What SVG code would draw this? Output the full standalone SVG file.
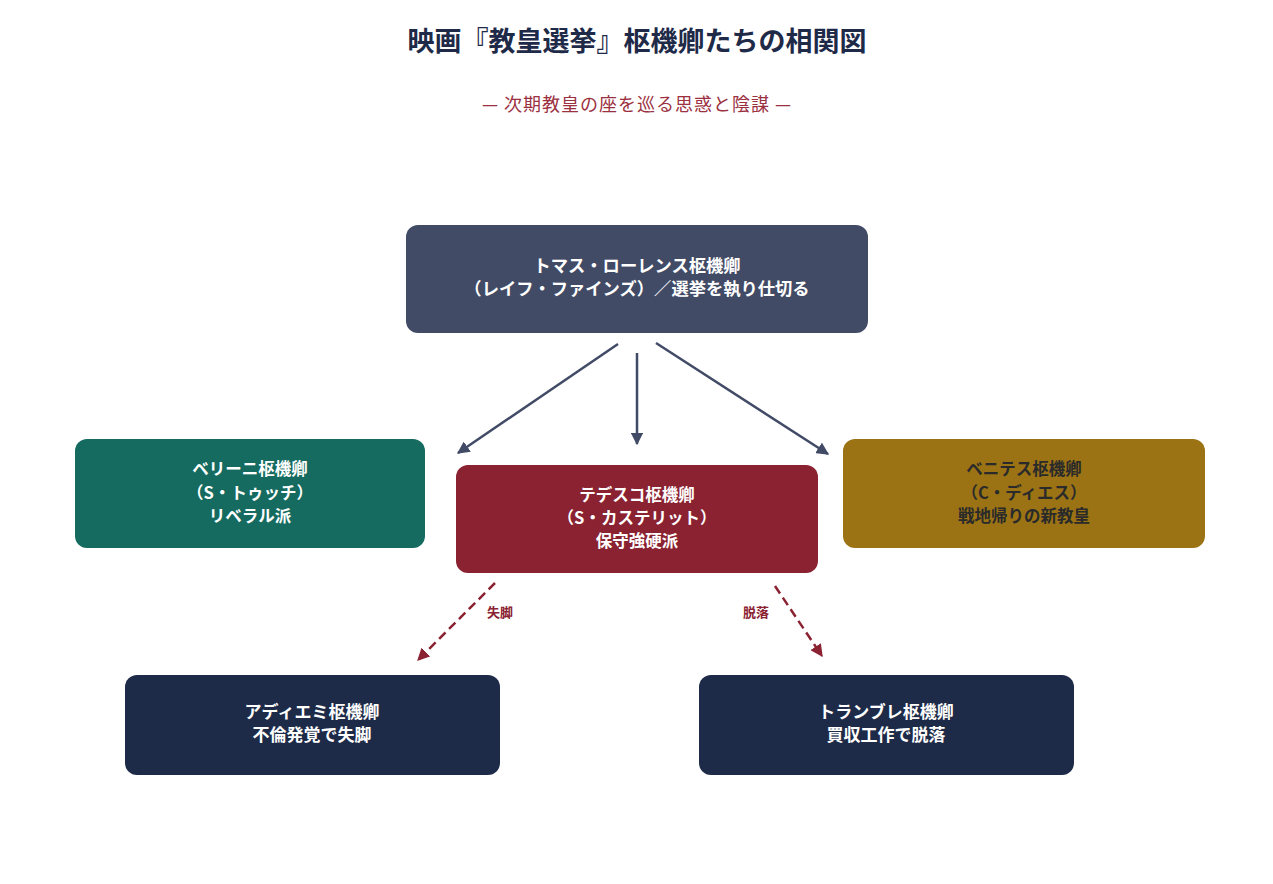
<svg xmlns="http://www.w3.org/2000/svg" width="1273" height="884" viewBox="0 0 1273 884">
<style>
text{font-family:"Noto Sans CJK JP","Noto Sans",sans-serif;text-anchor:middle}
.t{font-size:16.5px;font-weight:bold;fill:#ffffff}
.top{font-size:17.3px}
.bot{font-size:17px}
.dk{fill:#2a2a2a}
.lbl{font-size:13px;font-weight:bold;fill:#8a2232}
.solid{stroke:#424b66;stroke-width:2.5;fill:none}
.dash{stroke:#8a2232;stroke-width:2.5;fill:none;stroke-dasharray:9,5}
</style>
<defs>
<marker id="ah" viewBox="0 0 10 10" refX="9" refY="5" markerWidth="5" markerHeight="5" orient="auto" markerUnits="strokeWidth">
<path d="M0,0 L10,5 L0,10 z" fill="#424b66"/>
</marker>
<marker id="ahr" viewBox="0 0 10 10" refX="9" refY="5" markerWidth="5" markerHeight="5" orient="auto" markerUnits="strokeWidth">
<path d="M0,0 L10,5 L0,10 z" fill="#8a2232"/>
</marker>
</defs>
<rect width="1273" height="884" fill="#ffffff"/>
<text x="637" y="51" style="font-size:27px;font-weight:bold;fill:#1e2a48">映画『教皇選挙』枢機卿たちの相関図</text>
<text x="637" y="111" style="font-size:18px;letter-spacing:1px;fill:#9b3040">— 次期教皇の座を巡る思惑と陰謀 —</text>
<g id="connectors">
<line class="solid" x1="618" y1="344" x2="458" y2="453" marker-end="url(#ah)"/>
<line class="solid" x1="637" y1="353" x2="637" y2="444" marker-end="url(#ah)"/>
<line class="solid" x1="656" y1="343" x2="828" y2="454" marker-end="url(#ah)"/>
<line class="dash" x1="495" y1="583" x2="418" y2="660" marker-end="url(#ahr)"/>
<line class="dash" x1="775" y1="586" x2="822" y2="656" marker-end="url(#ahr)"/>
<rect x="483" y="602" width="34" height="20" fill="#ffffff" opacity="0.9"/>
<text class="lbl" x="500" y="617">失脚</text>
<rect x="739" y="602" width="34" height="20" fill="#ffffff" opacity="0.9"/>
<text class="lbl" x="756" y="617">脱落</text>
</g>
<g id="lawrence">
<rect x="406" y="225" width="462" height="108" rx="12" fill="#424b66"/>
<text class="t top" x="637" y="272">トマス・ローレンス枢機卿</text>
<text class="t top" x="637" y="295">（レイフ・ファインズ）／選挙を執り仕切る</text>
</g>
<g id="bellini">
<rect x="75" y="439" width="350" height="109" rx="12" fill="#156b5f"/>
<text class="t" x="250" y="475">ベリーニ枢機卿</text>
<text class="t" x="250" y="499">（S・トゥッチ）</text>
<text class="t" x="250" y="522">リベラル派</text>
</g>
<g id="tedesco">
<rect x="456" y="465" width="362" height="108" rx="12" fill="#8a2232"/>
<text class="t" x="637" y="501">テデスコ枢機卿</text>
<text class="t" x="637" y="524">（S・カステリット）</text>
<text class="t" x="637" y="547">保守強硬派</text>
</g>
<g id="benitez">
<rect x="843" y="439" width="362" height="109" rx="12" fill="#9b7314"/>
<text class="t dk" x="1024" y="475">ベニテス枢機卿</text>
<text class="t dk" x="1024" y="499">（C・ディエス）</text>
<text class="t dk" x="1024" y="522">戦地帰りの新教皇</text>
</g>
<g id="adeyemi">
<rect x="125" y="675" width="375" height="100" rx="12" fill="#1e2b48"/>
<text class="t bot" x="312" y="718">アディエミ枢機卿</text>
<text class="t bot" x="312" y="741">不倫発覚で失脚</text>
</g>
<g id="tremblay">
<rect x="699" y="675" width="375" height="100" rx="12" fill="#1e2b48"/>
<text class="t bot" x="886" y="718">トランブレ枢機卿</text>
<text class="t bot" x="886" y="741">買収工作で脱落</text>
</g>
</svg>
